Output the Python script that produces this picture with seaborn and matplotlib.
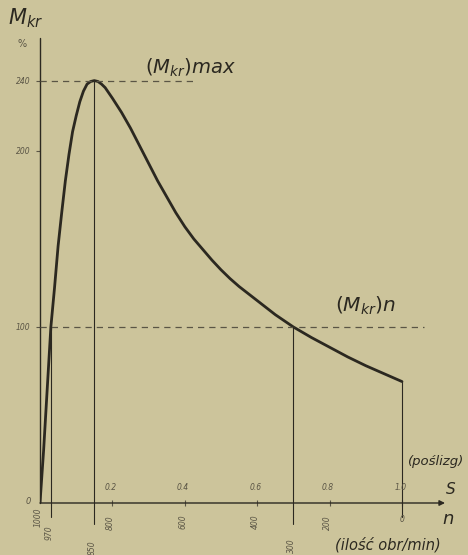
import numpy as np
import pandas as pd
import matplotlib
matplotlib.use("Agg")
import matplotlib.pyplot as plt
import seaborn as sns

# --- data ---
slip = [0.0, 0.005, 0.01, 0.02, 0.03, 0.04, 0.05, 0.06, 0.07, 0.08, 0.09,
        0.10, 0.11, 0.12, 0.13, 0.14, 0.15, 0.16, 0.17, 0.18, 0.19, 0.20,
        0.225, 0.25, 0.275, 0.30, 0.325, 0.35, 0.375, 0.40, 0.425, 0.45,
        0.475, 0.50, 0.525, 0.55, 0.575, 0.60, 0.65, 0.70, 0.75, 0.80, 0.85,
        0.90, 0.95, 1.00]
torque = [0, 15, 30, 65, 100, 122, 146, 165, 183, 198, 211,
          220, 228, 234, 238, 239.5, 240, 239.5, 238, 236, 233, 230,
          222, 213, 203, 193, 183, 174, 165, 157, 150, 144,
          138, 132.5, 127.5, 123, 119, 115, 107, 100, 94, 88.5, 83,
          78, 73.5, 69]
y_ticks = [0, 100, 200, 240]
y_tick_labels = ["0", "100", "200", "240"]
s_ticks = [0.2, 0.4, 0.6, 0.8, 1.0]
s_tick_labels = ["0.2", "0.4", "0.6", "0.8", "1.0"]
n_tick_s = [0.0, 0.03, 0.15, 0.2, 0.4, 0.6, 0.7, 0.8, 1.0]
n_tick_labels = ["1000", "970", "850", "800", "600", "400", "300", "200", "0"]
s_nominal, m_nominal = 0.03, 100
s_max, m_max = 0.15, 240
s_rated_low, s_end = 0.70, 1.0

df = pd.DataFrame({"s": slip, "M": torque})

W, H = 468, 555
BG = "#ccc49b"
INK = "#2b2820"
FAINT = "#5a5545"

sns.set_theme(style="white")
plt.rcParams["font.family"] = ["DejaVu Sans"]

fig = plt.figure(figsize=(W / 100, H / 100), dpi=100, facecolor=BG)

def fx(px):
    return px / W

def fy(py):
    return 1 - py / H

ax = fig.add_axes([fx(40), fy(503), (445 - 40) / W, (503 - 38) / H])
ax.set_facecolor(BG)
ax.set_xlim(0, 405 / 362)
ax.set_ylim(0, 465 / 1.76)
for sp in ax.spines.values():
    sp.set_visible(False)

# curve
sns.lineplot(data=df, x="s", y="M", ax=ax, color=INK, linewidth=2.0,
             estimator=None, sort=False)
ax.set_xlabel("")
ax.set_ylabel("")

# axes lines
ax.plot([0, 0], [0, 1], transform=ax.get_xaxis_transform(), color=INK,
        lw=1.0, clip_on=False)
ax.annotate("", xy=(1.0, 0), xytext=(0, 0), xycoords="axes fraction",
            arrowprops=dict(arrowstyle="-|>", color=INK, lw=1.0,
                            mutation_scale=8, shrinkA=0, shrinkB=0))

# dashed reference lines
ax.plot([0, 0.43], [m_max, m_max], ls=(0, (5, 4)), color=FAINT, lw=0.9)
ax.plot([0, 1.06], [m_nominal, m_nominal], ls=(0, (5, 4)), color=FAINT,
        lw=0.9, clip_on=False)

# vertical solid lines (extend slightly below the axis)
below = -8
ax.plot([s_nominal, s_nominal], [below, m_nominal], color=INK, lw=0.8, clip_on=False)
ax.plot([s_max, s_max], [below - 4, m_max], color=INK, lw=0.8, clip_on=False)
ax.plot([s_rated_low, s_rated_low], [below - 4, m_nominal], color=INK, lw=0.8, clip_on=False)
ax.plot([s_end, s_end], [below, torque[-1]], color=INK, lw=0.8, clip_on=False)

# y ticks
ax.set_yticks(y_ticks[1:])
ax.set_yticklabels(y_tick_labels[1:], fontsize=5.5, color=FAINT, style="italic")
ax.tick_params(axis="y", length=3, width=0.8, color=FAINT, pad=4, left=True)
fig.text(fx(28), fy(502), y_tick_labels[0], fontsize=6, color=FAINT,
         ha="center", va="center", style="italic")

# x ticks (s)
ax.set_xticks(s_ticks)
ax.set_xticklabels([])
ax.tick_params(axis="x", length=5, width=0.8, color=FAINT, direction="inout",
               bottom=True)
for s, lab in zip(s_ticks, s_tick_labels):
    ax.text(s - 0.005, 6, lab, fontsize=5.5, color=FAINT, ha="center",
            va="bottom", style="italic")

# n labels (rotated below axis)
n_y_px = [517, 533, 548, 523, 522, 522, 546, 523, 520]
for s, lab, ypx in zip(n_tick_s, n_tick_labels, n_y_px):
    xpx = 40 + s * 362
    rot = 0 if lab == "0" else 90
    fig.text(fx(xpx - 2 if rot else xpx), fy(ypx), lab, fontsize=5.5,
             color=FAINT, ha="center", va="center", rotation=rot,
             style="italic")

# annotations
fig.text(fx(8), fy(18), r"$M_{kr}$", fontsize=15, color=INK, ha="left", va="center")
fig.text(fx(22), fy(44), "%", fontsize=7, color=FAINT, ha="center", va="center")
fig.text(fx(145), fy(68), r"$(M_{kr})max$", fontsize=14, color=INK,
         ha="left", va="center")
fig.text(fx(335), fy(306), r"$(M_{kr})n$", fontsize=14.5, color=INK,
         ha="left", va="center")
fig.text(fx(408), fy(462), "(poślizg)", fontsize=9.5, color=INK, ha="left",
         va="center", style="italic")
fig.text(fx(451), fy(489), "S", fontsize=11, color=INK, ha="center",
         va="center", style="italic")
fig.text(fx(448), fy(519), "n", fontsize=13, color=INK, ha="center",
         va="center", style="italic")
fig.text(fx(335), fy(545), "(ilość obr/min)", fontsize=10.5, color=INK,
         ha="left", va="center", style="italic")

fig.savefig("out.png", dpi=100, facecolor=BG)
